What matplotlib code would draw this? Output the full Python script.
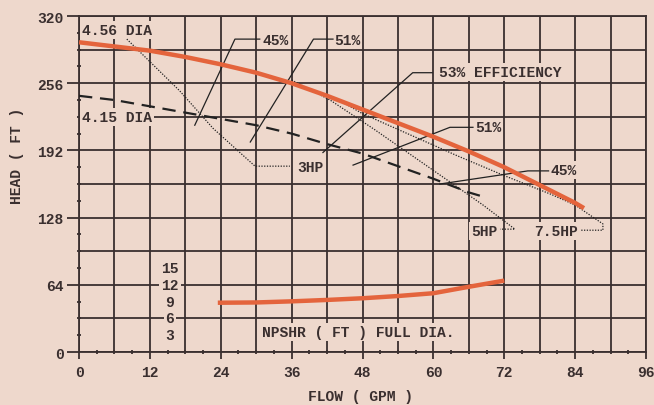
import numpy as np
import matplotlib.pyplot as plt

# pump curve values
flow_456 = [0, 6, 12, 18, 24, 30, 36, 42, 48, 54, 60, 66, 72, 78, 84, 85.5]
head_456 = [295, 291, 287, 281, 274, 266, 256, 244, 231, 218, 205, 191, 176, 159, 142, 137]

flow_415 = [0, 6, 12, 18, 24, 30, 36, 42, 48, 54, 60, 66, 69]
head_415 = [244, 240, 234, 228, 222, 216, 208, 198, 189, 177, 165, 152, 147]

npshr_flow = [23.5, 30, 36, 42, 48, 54, 60, 66, 72]
npshr_ft = [8.8, 8.85, 9.05, 9.3, 9.6, 10.0, 10.5, 11.65, 12.75]
npshr_scale = [3, 6, 9, 12, 15]

# efficiency lines (flow, head)
eff_45a = ([19.6, 26.4, 30.6], [216, 298, 298])
eff_51a = ([29.0, 39.7, 43.0], [200, 298, 298])
eff_53 = ([41.3, 56.5, 59.8], [190, 266, 266])
eff_51b = ([46.4, 62.8, 66.7], [178, 214, 214])
eff_45b = ([61.1, 76.0, 79.5], [160, 172.5, 172.5])

# horsepower lines (flow, head)
hp_3 = ([8.1, 17, 22.7, 29.8, 35.7], [298, 249, 213, 177, 177])
hp_5 = ([36, 42.5, 50, 62.8, 68.4, 73.8, 71.3], [259, 240, 212, 162, 140, 117, 117])
hp_75 = ([44, 48, 56, 64, 72, 80, 84, 88.7, 88.7, 84.8],
         [240, 227, 207, 187, 168, 150, 140, 122, 116, 116])

bg = '#eed8cc'
ink = '#3a2f2f'
orange = '#e4643c'
font = ['Liberation Mono', 'DejaVu Sans Mono']
plt.rcParams['font.family'] = font
plt.rcParams['font.weight'] = 'bold'

fig = plt.figure(figsize=(6.54, 4.06), dpi=100, facecolor=bg)
ax = fig.add_axes([0.1208, 0.1305, 0.8670, 0.8276])
ax.set_facecolor(bg)
ax.set_xlim(0, 96)
ax.set_ylim(0, 320)

# grid
for x in range(0, 97, 6):
    ax.axvline(x, color=ink, lw=1.3, zorder=1)
for y in range(0, 321, 32):
    ax.axhline(y, color=ink, lw=1.3, zorder=1)
for s in ax.spines.values():
    s.set_color(ink)
    s.set_linewidth(1.3)

ax.set_xticks(range(0, 97, 12))
ax.set_xticks(range(3, 96, 3), minor=True)
ax.set_yticks(range(0, 321, 64))
ax.set_yticks(range(16, 320, 16), minor=True)
ax.tick_params(which='major', axis='x', length=5, width=1.3, color=ink,
               labelsize=10.5, labelcolor=ink, pad=4)
ax.tick_params(which='major', axis='y', length=9, width=1.3, color=ink,
               labelsize=10.5, labelcolor=ink, pad=2)
ax.tick_params(which='minor', length=3, width=1.3, color=ink, direction='inout')

tb = dict(facecolor=bg, edgecolor='none', pad=1.5)

# head curves
ax.plot(flow_456, head_456, color=orange, lw=3.2, solid_capstyle='butt', zorder=4)
ax.plot(flow_415, head_415, color='#222', lw=1.6, dashes=(6, 3.5), zorder=4)

# NPSHR curve on its own scale (3 ft per 16 ft of head)
npshr_head = np.array(npshr_ft) * 16 / 3
ax.plot(npshr_flow, npshr_head, color=orange, lw=3.2, solid_capstyle='butt', zorder=4)
for v in npshr_scale:
    ax.text(15.4, v * 16 / 3, str(v), ha='center', va='center', fontsize=10.5,
            color=ink, bbox=tb, zorder=3)

# efficiency lines
for xs, ys in [eff_45a, eff_51a, eff_53, eff_51b, eff_45b]:
    ax.plot(xs, ys, color='#222', lw=0.9, zorder=3)
# horsepower lines
for xs, ys in [hp_3, hp_5, hp_75]:
    ax.plot(xs, ys, color='#222', lw=0.9, ls=(0, (1, 1.2)), zorder=3)

labels = [
    (0.5, 307, '4.56 DIA', 'left'),
    (0.5, 224, '4.15 DIA', 'left'),
    (31.0, 297, '45%', 'left'),
    (43.2, 297, '51%', 'left'),
    (61.0, 267, '53% EFFICIENCY', 'left'),
    (67.0, 214, '51%', 'left'),
    (79.8, 173, '45%', 'left'),
    (37.0, 176, '3HP', 'left'),
    (70.9, 115, '5HP', 'right'),
    (84.4, 115, '7.5HP', 'right'),
    (31.0, 19, 'NPSHR ( FT ) FULL DIA.', 'left'),
]
for x, y, s, ha in labels:
    ax.text(x, y, s, ha=ha, va='center', fontsize=10.5, color=ink, bbox=tb, zorder=2)

fig.text(17 / 654, 1 - 156 / 406, 'HEAD ( FT )', rotation=90, ha='center',
         va='center', fontsize=10.5, color=ink)
fig.text(360 / 654, 1 - 397 / 406, 'FLOW ( GPM )', ha='center', va='center',
         fontsize=10.5, color=ink)

fig.savefig('out.png', dpi=100, facecolor=bg)
